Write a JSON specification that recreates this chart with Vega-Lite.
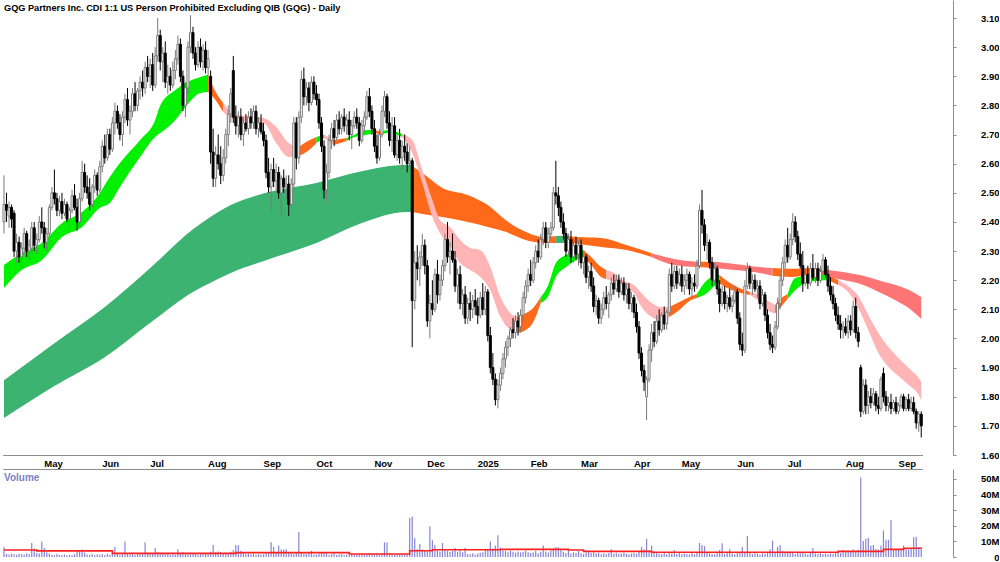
{
"$schema":"https://vega.github.io/schema/vega-lite/v6.json",
"padding":0,
"background":"white",
"bounds":"flush",
"spacing":14,
"config":{"view":{"stroke":null},"axis":{"labelFont":"Liberation Sans","labelFontSize":9.5,"labelFontWeight":"bold","labelColor":"#000000","domainColor":"#8c8c8c","tickColor":"#8c8c8c","grid":false,"labelOverlap":false}},
"datasets":{
"px":[
{"d":"2024-04-08","o":2.40,"h":2.56,"l":2.36,"c":2.46,"v":6.4},
{"d":"2024-04-09","o":2.46,"h":2.50,"l":2.40,"c":2.44,"v":2.0},
{"d":"2024-04-10","o":2.42,"h":2.47,"l":2.38,"c":2.45,"v":1.6},
{"d":"2024-04-11","o":2.45,"h":2.46,"l":2.38,"c":2.41,"v":2.2},
{"d":"2024-04-12","o":2.43,"h":2.44,"l":2.28,"c":2.30,"v":1.8},
{"d":"2024-04-15","o":2.30,"h":2.36,"l":2.26,"c":2.33,"v":1.5},
{"d":"2024-04-16","o":2.33,"h":2.35,"l":2.26,"c":2.28,"v":2.1},
{"d":"2024-04-17","o":2.28,"h":2.33,"l":2.24,"c":2.31,"v":1.7},
{"d":"2024-04-18","o":2.31,"h":2.38,"l":2.29,"c":2.36,"v":1.4},
{"d":"2024-04-19","o":2.36,"h":2.37,"l":2.28,"c":2.30,"v":2.4},
{"d":"2024-04-22","o":2.30,"h":2.34,"l":2.27,"c":2.32,"v":1.9},
{"d":"2024-04-23","o":2.31,"h":2.40,"l":2.29,"c":2.38,"v":9.0},
{"d":"2024-04-24","o":2.38,"h":2.40,"l":2.30,"c":2.32,"v":5.5},
{"d":"2024-04-26","o":2.32,"h":2.36,"l":2.29,"c":2.34,"v":2.6},
{"d":"2024-04-29","o":2.34,"h":2.42,"l":2.33,"c":2.40,"v":2.3},
{"d":"2024-04-30","o":2.40,"h":2.45,"l":2.36,"c":2.38,"v":10.0},
{"d":"2024-05-01","o":2.38,"h":2.40,"l":2.31,"c":2.33,"v":5.8},
{"d":"2024-05-02","o":2.33,"h":2.38,"l":2.30,"c":2.36,"v":3.0},
{"d":"2024-05-03","o":2.36,"h":2.46,"l":2.35,"c":2.45,"v":2.2},
{"d":"2024-05-06","o":2.45,"h":2.52,"l":2.44,"c":2.50,"v":1.5},
{"d":"2024-05-07","o":2.50,"h":2.58,"l":2.46,"c":2.48,"v":1.2},
{"d":"2024-05-08","o":2.48,"h":2.50,"l":2.42,"c":2.44,"v":1.9},
{"d":"2024-05-09","o":2.44,"h":2.49,"l":2.42,"c":2.47,"v":1.3},
{"d":"2024-05-10","o":2.47,"h":2.50,"l":2.41,"c":2.43,"v":1.1},
{"d":"2024-05-13","o":2.43,"h":2.48,"l":2.42,"c":2.46,"v":1.6},
{"d":"2024-05-14","o":2.46,"h":2.47,"l":2.40,"c":2.41,"v":1.0},
{"d":"2024-05-15","o":2.41,"h":2.45,"l":2.38,"c":2.44,"v":1.4},
{"d":"2024-05-16","o":2.44,"h":2.51,"l":2.43,"c":2.49,"v":1.2},
{"d":"2024-05-17","o":2.49,"h":2.53,"l":2.44,"c":2.45,"v":1.8},
{"d":"2024-05-20","o":2.45,"h":2.48,"l":2.37,"c":2.40,"v":4.7},
{"d":"2024-05-21","o":2.40,"h":2.50,"l":2.38,"c":2.48,"v":4.5},
{"d":"2024-05-22","o":2.48,"h":2.61,"l":2.47,"c":2.57,"v":4.8},
{"d":"2024-05-23","o":2.57,"h":2.60,"l":2.50,"c":2.52,"v":2.9},
{"d":"2024-05-24","o":2.52,"h":2.56,"l":2.48,"c":2.50,"v":1.6},
{"d":"2024-05-27","o":2.50,"h":2.55,"l":2.44,"c":2.46,"v":1.3},
{"d":"2024-05-28","o":2.46,"h":2.53,"l":2.45,"c":2.52,"v":2.0},
{"d":"2024-05-29","o":2.52,"h":2.58,"l":2.50,"c":2.56,"v":1.1},
{"d":"2024-05-30","o":2.56,"h":2.57,"l":2.49,"c":2.51,"v":1.7},
{"d":"2024-05-31","o":2.51,"h":2.61,"l":2.50,"c":2.59,"v":1.4},
{"d":"2024-06-03","o":2.59,"h":2.68,"l":2.57,"c":2.66,"v":1.9},
{"d":"2024-06-04","o":2.66,"h":2.70,"l":2.60,"c":2.62,"v":1.2},
{"d":"2024-06-05","o":2.62,"h":2.72,"l":2.61,"c":2.70,"v":2.1},
{"d":"2024-06-06","o":2.70,"h":2.72,"l":2.63,"c":2.65,"v":1.5},
{"d":"2024-06-07","o":2.65,"h":2.76,"l":2.64,"c":2.74,"v":2.6},
{"d":"2024-06-11","o":2.74,"h":2.81,"l":2.70,"c":2.78,"v":6.4},
{"d":"2024-06-12","o":2.78,"h":2.80,"l":2.72,"c":2.74,"v":2.0},
{"d":"2024-06-13","o":2.74,"h":2.77,"l":2.68,"c":2.70,"v":1.4},
{"d":"2024-06-14","o":2.70,"h":2.78,"l":2.66,"c":2.76,"v":2.4},
{"d":"2024-06-17","o":2.76,"h":2.84,"l":2.74,"c":2.82,"v":10.0},
{"d":"2024-06-18","o":2.82,"h":2.86,"l":2.73,"c":2.75,"v":2.2},
{"d":"2024-06-19","o":2.75,"h":2.80,"l":2.70,"c":2.78,"v":1.6},
{"d":"2024-06-20","o":2.78,"h":2.86,"l":2.76,"c":2.84,"v":2.0},
{"d":"2024-06-21","o":2.84,"h":2.88,"l":2.78,"c":2.80,"v":1.3},
{"d":"2024-06-24","o":2.80,"h":2.86,"l":2.78,"c":2.85,"v":2.5},
{"d":"2024-06-25","o":2.85,"h":2.90,"l":2.82,"c":2.88,"v":1.8},
{"d":"2024-06-26","o":2.88,"h":2.92,"l":2.83,"c":2.86,"v":2.2},
{"d":"2024-06-27","o":2.86,"h":2.95,"l":2.84,"c":2.93,"v":9.4},
{"d":"2024-06-28","o":2.93,"h":2.97,"l":2.88,"c":2.90,"v":2.7},
{"d":"2024-07-01","o":2.90,"h":2.96,"l":2.86,"c":2.94,"v":1.9},
{"d":"2024-07-02","o":2.94,"h":2.98,"l":2.85,"c":2.87,"v":2.4},
{"d":"2024-07-03","o":2.87,"h":3.00,"l":2.86,"c":2.97,"v":5.8},
{"d":"2024-07-04","o":2.97,"h":3.10,"l":2.95,"c":3.04,"v":3.1},
{"d":"2024-07-05","o":3.04,"h":3.06,"l":2.92,"c":2.95,"v":2.2},
{"d":"2024-07-08","o":2.95,"h":3.00,"l":2.88,"c":2.98,"v":2.8},
{"d":"2024-07-09","o":2.98,"h":3.02,"l":2.86,"c":2.88,"v":1.7},
{"d":"2024-07-10","o":2.88,"h":2.94,"l":2.84,"c":2.90,"v":2.3},
{"d":"2024-07-11","o":2.90,"h":2.93,"l":2.85,"c":2.87,"v":1.5},
{"d":"2024-07-12","o":2.87,"h":2.95,"l":2.86,"c":2.92,"v":2.0},
{"d":"2024-07-15","o":2.92,"h":2.99,"l":2.89,"c":2.96,"v":1.6},
{"d":"2024-07-16","o":2.96,"h":3.04,"l":2.94,"c":3.01,"v":5.0},
{"d":"2024-07-17","o":3.01,"h":3.03,"l":2.88,"c":2.90,"v":2.6},
{"d":"2024-07-18","o":2.90,"h":2.92,"l":2.78,"c":2.80,"v":3.0},
{"d":"2024-07-19","o":2.80,"h":2.88,"l":2.76,"c":2.86,"v":2.2},
{"d":"2024-07-22","o":2.86,"h":3.02,"l":2.84,"c":3.00,"v":1.8},
{"d":"2024-07-23","o":3.00,"h":3.11,"l":2.98,"c":3.05,"v":2.7},
{"d":"2024-07-24","o":3.05,"h":3.07,"l":2.96,"c":2.98,"v":2.3},
{"d":"2024-07-25","o":2.98,"h":3.00,"l":2.92,"c":2.94,"v":1.9},
{"d":"2024-07-26","o":2.94,"h":3.02,"l":2.93,"c":3.00,"v":1.4},
{"d":"2024-07-29","o":3.00,"h":3.03,"l":2.93,"c":2.95,"v":2.5},
{"d":"2024-07-30","o":2.95,"h":3.01,"l":2.92,"c":2.99,"v":1.9},
{"d":"2024-07-31","o":2.99,"h":3.02,"l":2.91,"c":2.93,"v":2.6},
{"d":"2024-08-01","o":2.93,"h":2.99,"l":2.90,"c":2.96,"v":2.1},
{"d":"2024-08-02","o":2.90,"h":2.92,"l":2.60,"c":2.64,"v":3.4},
{"d":"2024-08-05","o":2.64,"h":2.72,"l":2.52,"c":2.55,"v":7.7},
{"d":"2024-08-06","o":2.55,"h":2.66,"l":2.52,"c":2.63,"v":3.0},
{"d":"2024-08-07","o":2.63,"h":2.70,"l":2.58,"c":2.60,"v":3.5},
{"d":"2024-08-08","o":2.60,"h":2.66,"l":2.53,"c":2.56,"v":3.2},
{"d":"2024-08-09","o":2.56,"h":2.65,"l":2.54,"c":2.62,"v":2.6},
{"d":"2024-08-12","o":2.62,"h":2.72,"l":2.60,"c":2.70,"v":2.8},
{"d":"2024-08-13","o":2.70,"h":2.80,"l":2.66,"c":2.77,"v":2.4},
{"d":"2024-08-14","o":2.77,"h":2.86,"l":2.74,"c":2.84,"v":3.3},
{"d":"2024-08-15","o":2.92,"h":2.97,"l":2.74,"c":2.76,"v":4.5},
{"d":"2024-08-16","o":2.76,"h":2.80,"l":2.70,"c":2.73,"v":7.7},
{"d":"2024-08-19","o":2.73,"h":2.78,"l":2.69,"c":2.76,"v":7.5},
{"d":"2024-08-20","o":2.76,"h":2.79,"l":2.68,"c":2.70,"v":4.0},
{"d":"2024-08-21","o":2.70,"h":2.76,"l":2.66,"c":2.74,"v":2.6},
{"d":"2024-08-22","o":2.74,"h":2.77,"l":2.71,"c":2.72,"v":1.9},
{"d":"2024-08-23","o":2.72,"h":2.78,"l":2.70,"c":2.76,"v":2.2},
{"d":"2024-08-26","o":2.76,"h":2.79,"l":2.72,"c":2.74,"v":1.7},
{"d":"2024-08-27","o":2.74,"h":2.80,"l":2.72,"c":2.78,"v":2.3},
{"d":"2024-08-28","o":2.78,"h":2.80,"l":2.70,"c":2.72,"v":1.5},
{"d":"2024-08-29","o":2.72,"h":2.76,"l":2.69,"c":2.74,"v":2.0},
{"d":"2024-08-30","o":2.74,"h":2.77,"l":2.70,"c":2.71,"v":1.6},
{"d":"2024-09-02","o":2.71,"h":2.74,"l":2.66,"c":2.68,"v":1.8},
{"d":"2024-09-03","o":2.68,"h":2.70,"l":2.55,"c":2.57,"v":2.5},
{"d":"2024-09-04","o":2.57,"h":2.62,"l":2.50,"c":2.52,"v":3.0},
{"d":"2024-09-05","o":2.52,"h":2.60,"l":2.44,"c":2.58,"v":9.4},
{"d":"2024-09-06","o":2.58,"h":2.62,"l":2.52,"c":2.54,"v":6.4},
{"d":"2024-09-09","o":2.54,"h":2.60,"l":2.50,"c":2.57,"v":3.1},
{"d":"2024-09-10","o":2.57,"h":2.59,"l":2.48,"c":2.50,"v":7.3},
{"d":"2024-09-11","o":2.50,"h":2.56,"l":2.42,"c":2.55,"v":5.0},
{"d":"2024-09-12","o":2.55,"h":2.58,"l":2.50,"c":2.52,"v":4.8},
{"d":"2024-09-13","o":2.52,"h":2.56,"l":2.48,"c":2.53,"v":5.0},
{"d":"2024-09-16","o":2.53,"h":2.56,"l":2.42,"c":2.46,"v":3.2},
{"d":"2024-09-17","o":2.46,"h":2.55,"l":2.45,"c":2.53,"v":2.4},
{"d":"2024-09-18","o":2.53,"h":2.76,"l":2.52,"c":2.74,"v":2.0},
{"d":"2024-09-19","o":2.74,"h":2.76,"l":2.58,"c":2.62,"v":2.7},
{"d":"2024-09-20","o":2.62,"h":2.78,"l":2.60,"c":2.76,"v":16.0},
{"d":"2024-09-23","o":2.76,"h":2.92,"l":2.74,"c":2.89,"v":3.1},
{"d":"2024-09-24","o":2.89,"h":2.93,"l":2.80,"c":2.83,"v":2.2},
{"d":"2024-09-25","o":2.83,"h":2.88,"l":2.80,"c":2.86,"v":1.9},
{"d":"2024-09-26","o":2.86,"h":2.88,"l":2.78,"c":2.81,"v":2.5},
{"d":"2024-09-27","o":2.81,"h":2.90,"l":2.80,"c":2.88,"v":4.0},
{"d":"2024-09-30","o":2.88,"h":2.90,"l":2.82,"c":2.84,"v":1.8},
{"d":"2024-10-01","o":2.84,"h":2.87,"l":2.80,"c":2.82,"v":1.6},
{"d":"2024-10-02","o":2.82,"h":2.84,"l":2.72,"c":2.74,"v":2.2},
{"d":"2024-10-03","o":2.74,"h":2.76,"l":2.64,"c":2.66,"v":2.8},
{"d":"2024-10-04","o":2.66,"h":2.68,"l":2.48,"c":2.51,"v":3.2},
{"d":"2024-10-07","o":2.51,"h":2.60,"l":2.47,"c":2.57,"v":2.4},
{"d":"2024-10-08","o":2.57,"h":2.70,"l":2.55,"c":2.68,"v":1.5},
{"d":"2024-10-09","o":2.68,"h":2.74,"l":2.65,"c":2.72,"v":1.9},
{"d":"2024-10-10","o":2.72,"h":2.75,"l":2.66,"c":2.69,"v":2.6},
{"d":"2024-10-11","o":2.69,"h":2.77,"l":2.68,"c":2.75,"v":1.3},
{"d":"2024-10-14","o":2.75,"h":2.78,"l":2.70,"c":2.72,"v":1.7},
{"d":"2024-10-15","o":2.72,"h":2.77,"l":2.70,"c":2.76,"v":2.0},
{"d":"2024-10-16","o":2.76,"h":2.79,"l":2.71,"c":2.73,"v":1.2},
{"d":"2024-10-17","o":2.73,"h":2.77,"l":2.70,"c":2.75,"v":1.6},
{"d":"2024-10-18","o":2.75,"h":2.78,"l":2.68,"c":2.70,"v":1.4},
{"d":"2024-10-21","o":2.70,"h":2.75,"l":2.65,"c":2.73,"v":2.1},
{"d":"2024-10-22","o":2.73,"h":2.78,"l":2.72,"c":2.76,"v":1.5},
{"d":"2024-10-23","o":2.76,"h":2.79,"l":2.72,"c":2.74,"v":1.8},
{"d":"2024-10-24","o":2.74,"h":2.76,"l":2.66,"c":2.68,"v":1.6},
{"d":"2024-10-25","o":2.68,"h":2.75,"l":2.67,"c":2.73,"v":2.3},
{"d":"2024-10-28","o":2.73,"h":2.78,"l":2.71,"c":2.76,"v":1.4},
{"d":"2024-10-29","o":2.76,"h":2.85,"l":2.75,"c":2.83,"v":1.9},
{"d":"2024-10-30","o":2.83,"h":2.86,"l":2.76,"c":2.78,"v":2.5},
{"d":"2024-10-31","o":2.78,"h":2.80,"l":2.70,"c":2.72,"v":1.6},
{"d":"2024-11-01","o":2.72,"h":2.75,"l":2.64,"c":2.66,"v":1.8},
{"d":"2024-11-04","o":2.66,"h":2.70,"l":2.60,"c":2.62,"v":2.2},
{"d":"2024-11-05","o":2.62,"h":2.72,"l":2.61,"c":2.70,"v":1.5},
{"d":"2024-11-06","o":2.70,"h":2.80,"l":2.69,"c":2.78,"v":2.0},
{"d":"2024-11-07","o":2.78,"h":2.85,"l":2.76,"c":2.83,"v":9.4},
{"d":"2024-11-08","o":2.83,"h":2.84,"l":2.72,"c":2.74,"v":9.4},
{"d":"2024-11-11","o":2.74,"h":2.78,"l":2.66,"c":2.68,"v":2.6},
{"d":"2024-11-12","o":2.68,"h":2.76,"l":2.64,"c":2.73,"v":1.7},
{"d":"2024-11-13","o":2.73,"h":2.76,"l":2.62,"c":2.63,"v":1.4},
{"d":"2024-11-14","o":2.63,"h":2.70,"l":2.61,"c":2.68,"v":1.9},
{"d":"2024-11-15","o":2.68,"h":2.72,"l":2.60,"c":2.62,"v":1.3},
{"d":"2024-11-18","o":2.62,"h":2.68,"l":2.58,"c":2.66,"v":1.6},
{"d":"2024-11-19","o":2.66,"h":2.70,"l":2.61,"c":2.64,"v":2.0},
{"d":"2024-11-20","o":2.64,"h":2.67,"l":2.57,"c":2.60,"v":1.8},
{"d":"2024-11-21","o":2.60,"h":2.66,"l":2.58,"c":2.61,"v":25.0},
{"d":"2024-11-22","o":2.61,"h":2.62,"l":1.97,"c":2.13,"v":26.0},
{"d":"2024-11-25","o":2.13,"h":2.30,"l":2.10,"c":2.26,"v":12.0},
{"d":"2024-11-26","o":2.26,"h":2.32,"l":2.20,"c":2.24,"v":5.2},
{"d":"2024-11-27","o":2.24,"h":2.30,"l":2.18,"c":2.28,"v":8.3},
{"d":"2024-11-28","o":2.28,"h":2.36,"l":2.25,"c":2.32,"v":5.0},
{"d":"2024-11-29","o":2.32,"h":2.34,"l":2.22,"c":2.25,"v":4.1},
{"d":"2024-12-02","o":2.25,"h":2.27,"l":2.04,"c":2.06,"v":3.6},
{"d":"2024-12-03","o":2.06,"h":2.15,"l":2.00,"c":2.12,"v":19.6},
{"d":"2024-12-04","o":2.12,"h":2.20,"l":2.08,"c":2.10,"v":10.7},
{"d":"2024-12-05","o":2.10,"h":2.24,"l":2.09,"c":2.22,"v":7.7},
{"d":"2024-12-06","o":2.22,"h":2.27,"l":2.12,"c":2.15,"v":4.2},
{"d":"2024-12-09","o":2.15,"h":2.22,"l":2.13,"c":2.20,"v":3.5},
{"d":"2024-12-10","o":2.20,"h":2.27,"l":2.18,"c":2.25,"v":9.0},
{"d":"2024-12-11","o":2.25,"h":2.36,"l":2.23,"c":2.34,"v":4.5},
{"d":"2024-12-12","o":2.34,"h":2.40,"l":2.26,"c":2.28,"v":3.8},
{"d":"2024-12-13","o":2.28,"h":2.33,"l":2.22,"c":2.30,"v":3.2},
{"d":"2024-12-16","o":2.30,"h":2.36,"l":2.26,"c":2.27,"v":4.0},
{"d":"2024-12-17","o":2.27,"h":2.30,"l":2.16,"c":2.18,"v":5.8},
{"d":"2024-12-18","o":2.18,"h":2.24,"l":2.12,"c":2.22,"v":3.4},
{"d":"2024-12-19","o":2.22,"h":2.25,"l":2.10,"c":2.12,"v":4.4},
{"d":"2024-12-20","o":2.12,"h":2.17,"l":2.08,"c":2.15,"v":3.0},
{"d":"2024-12-23","o":2.15,"h":2.18,"l":2.05,"c":2.07,"v":5.8},
{"d":"2024-12-24","o":2.07,"h":2.14,"l":2.05,"c":2.12,"v":2.0},
{"d":"2024-12-27","o":2.12,"h":2.16,"l":2.06,"c":2.10,"v":1.8},
{"d":"2024-12-30","o":2.10,"h":2.15,"l":2.07,"c":2.13,"v":2.4},
{"d":"2024-12-31","o":2.13,"h":2.17,"l":2.08,"c":2.11,"v":1.6},
{"d":"2025-01-02","o":2.11,"h":2.14,"l":2.05,"c":2.08,"v":2.2},
{"d":"2025-01-03","o":2.08,"h":2.16,"l":2.07,"c":2.14,"v":2.8},
{"d":"2025-01-06","o":2.14,"h":2.19,"l":2.08,"c":2.10,"v":3.1},
{"d":"2025-01-07","o":2.10,"h":2.18,"l":2.08,"c":2.16,"v":4.4},
{"d":"2025-01-08","o":2.16,"h":2.17,"l":1.99,"c":2.01,"v":5.2},
{"d":"2025-01-09","o":2.01,"h":2.04,"l":1.88,"c":1.90,"v":10.0},
{"d":"2025-01-10","o":1.90,"h":1.95,"l":1.84,"c":1.86,"v":5.5},
{"d":"2025-01-13","o":1.86,"h":1.88,"l":1.77,"c":1.79,"v":7.3},
{"d":"2025-01-14","o":1.79,"h":1.86,"l":1.76,"c":1.84,"v":14.0},
{"d":"2025-01-15","o":1.84,"h":1.90,"l":1.82,"c":1.88,"v":6.0},
{"d":"2025-01-16","o":1.88,"h":1.95,"l":1.86,"c":1.93,"v":4.2},
{"d":"2025-01-17","o":1.93,"h":1.99,"l":1.90,"c":1.97,"v":3.8},
{"d":"2025-01-20","o":1.97,"h":2.01,"l":1.94,"c":2.00,"v":3.0},
{"d":"2025-01-21","o":2.00,"h":2.04,"l":1.97,"c":2.03,"v":4.1},
{"d":"2025-01-22","o":2.03,"h":2.07,"l":2.00,"c":2.02,"v":3.3},
{"d":"2025-01-23","o":2.02,"h":2.08,"l":2.00,"c":2.06,"v":2.8},
{"d":"2025-01-24","o":2.06,"h":2.09,"l":2.01,"c":2.04,"v":3.6},
{"d":"2025-01-28","o":2.04,"h":2.10,"l":2.02,"c":2.08,"v":2.9},
{"d":"2025-01-29","o":2.08,"h":2.16,"l":2.06,"c":2.14,"v":3.4},
{"d":"2025-01-30","o":2.14,"h":2.20,"l":2.12,"c":2.18,"v":4.2},
{"d":"2025-01-31","o":2.18,"h":2.24,"l":2.16,"c":2.22,"v":3.0},
{"d":"2025-02-03","o":2.22,"h":2.27,"l":2.18,"c":2.20,"v":2.6},
{"d":"2025-02-04","o":2.20,"h":2.28,"l":2.19,"c":2.26,"v":3.1},
{"d":"2025-02-05","o":2.26,"h":2.32,"l":2.24,"c":2.30,"v":4.0},
{"d":"2025-02-06","o":2.30,"h":2.34,"l":2.26,"c":2.28,"v":2.4},
{"d":"2025-02-07","o":2.28,"h":2.36,"l":2.27,"c":2.34,"v":3.3},
{"d":"2025-02-10","o":2.34,"h":2.40,"l":2.32,"c":2.38,"v":7.3},
{"d":"2025-02-11","o":2.38,"h":2.40,"l":2.31,"c":2.33,"v":3.6},
{"d":"2025-02-12","o":2.33,"h":2.38,"l":2.31,"c":2.36,"v":2.9},
{"d":"2025-02-13","o":2.36,"h":2.40,"l":2.34,"c":2.38,"v":4.2},
{"d":"2025-02-14","o":2.38,"h":2.52,"l":2.37,"c":2.50,"v":5.5},
{"d":"2025-02-17","o":2.50,"h":2.61,"l":2.46,"c":2.49,"v":6.4},
{"d":"2025-02-18","o":2.49,"h":2.52,"l":2.42,"c":2.45,"v":6.2},
{"d":"2025-02-19","o":2.45,"h":2.47,"l":2.38,"c":2.40,"v":4.8},
{"d":"2025-02-20","o":2.40,"h":2.43,"l":2.34,"c":2.36,"v":3.4},
{"d":"2025-02-21","o":2.36,"h":2.38,"l":2.28,"c":2.30,"v":2.6},
{"d":"2025-02-24","o":2.30,"h":2.36,"l":2.29,"c":2.34,"v":3.9},
{"d":"2025-02-25","o":2.34,"h":2.37,"l":2.26,"c":2.28,"v":2.2},
{"d":"2025-02-26","o":2.28,"h":2.34,"l":2.26,"c":2.32,"v":3.0},
{"d":"2025-02-27","o":2.32,"h":2.35,"l":2.27,"c":2.29,"v":2.5},
{"d":"2025-02-28","o":2.29,"h":2.34,"l":2.25,"c":2.32,"v":3.8},
{"d":"2025-03-03","o":2.32,"h":2.34,"l":2.24,"c":2.26,"v":2.4},
{"d":"2025-03-04","o":2.26,"h":2.30,"l":2.22,"c":2.28,"v":2.0},
{"d":"2025-03-05","o":2.28,"h":2.29,"l":2.19,"c":2.21,"v":2.9},
{"d":"2025-03-06","o":2.21,"h":2.25,"l":2.17,"c":2.23,"v":3.3},
{"d":"2025-03-07","o":2.23,"h":2.26,"l":2.16,"c":2.18,"v":2.6},
{"d":"2025-03-10","o":2.18,"h":2.21,"l":2.09,"c":2.11,"v":3.1},
{"d":"2025-03-11","o":2.11,"h":2.15,"l":2.08,"c":2.13,"v":2.2},
{"d":"2025-03-12","o":2.13,"h":2.14,"l":2.05,"c":2.07,"v":2.7},
{"d":"2025-03-13","o":2.07,"h":2.12,"l":2.05,"c":2.10,"v":1.8},
{"d":"2025-03-14","o":2.10,"h":2.16,"l":2.08,"c":2.14,"v":2.4},
{"d":"2025-03-17","o":2.14,"h":2.18,"l":2.10,"c":2.12,"v":2.0},
{"d":"2025-03-18","o":2.12,"h":2.16,"l":2.07,"c":2.15,"v":2.6},
{"d":"2025-03-19","o":2.15,"h":2.21,"l":2.13,"c":2.19,"v":5.0},
{"d":"2025-03-20","o":2.19,"h":2.22,"l":2.15,"c":2.17,"v":2.1},
{"d":"2025-03-21","o":2.17,"h":2.22,"l":2.16,"c":2.20,"v":2.7},
{"d":"2025-03-24","o":2.20,"h":2.22,"l":2.14,"c":2.16,"v":1.9},
{"d":"2025-03-25","o":2.16,"h":2.21,"l":2.15,"c":2.19,"v":2.3},
{"d":"2025-03-26","o":2.19,"h":2.21,"l":2.13,"c":2.15,"v":2.8},
{"d":"2025-03-27","o":2.15,"h":2.19,"l":2.12,"c":2.17,"v":2.1},
{"d":"2025-03-28","o":2.17,"h":2.19,"l":2.10,"c":2.12,"v":1.7},
{"d":"2025-03-31","o":2.12,"h":2.16,"l":2.09,"c":2.14,"v":2.2},
{"d":"2025-04-01","o":2.14,"h":2.15,"l":2.07,"c":2.09,"v":2.5},
{"d":"2025-04-02","o":2.09,"h":2.12,"l":2.02,"c":2.04,"v":2.0},
{"d":"2025-04-03","o":2.04,"h":2.06,"l":1.93,"c":1.95,"v":3.2},
{"d":"2025-04-04","o":1.95,"h":1.97,"l":1.87,"c":1.89,"v":6.4},
{"d":"2025-04-07","o":1.89,"h":1.91,"l":1.82,"c":1.85,"v":4.9},
{"d":"2025-04-08","o":1.80,"h":1.87,"l":1.72,"c":1.86,"v":11.7},
{"d":"2025-04-09","o":1.86,"h":1.98,"l":1.85,"c":1.96,"v":4.2},
{"d":"2025-04-10","o":1.96,"h":2.05,"l":1.92,"c":2.02,"v":7.3},
{"d":"2025-04-11","o":2.02,"h":2.06,"l":1.97,"c":1.99,"v":3.6},
{"d":"2025-04-14","o":1.99,"h":2.08,"l":1.98,"c":2.06,"v":2.8},
{"d":"2025-04-15","o":2.06,"h":2.10,"l":2.01,"c":2.03,"v":2.2},
{"d":"2025-04-16","o":2.03,"h":2.09,"l":2.02,"c":2.08,"v":1.9},
{"d":"2025-04-17","o":2.08,"h":2.11,"l":2.03,"c":2.05,"v":2.5},
{"d":"2025-04-22","o":2.05,"h":2.10,"l":2.03,"c":2.09,"v":1.8},
{"d":"2025-04-23","o":2.09,"h":2.24,"l":2.08,"c":2.22,"v":3.0},
{"d":"2025-04-24","o":2.22,"h":2.26,"l":2.16,"c":2.18,"v":2.4},
{"d":"2025-04-28","o":2.18,"h":2.25,"l":2.17,"c":2.23,"v":4.5},
{"d":"2025-04-29","o":2.23,"h":2.25,"l":2.17,"c":2.19,"v":2.0},
{"d":"2025-04-30","o":2.19,"h":2.24,"l":2.18,"c":2.22,"v":2.6},
{"d":"2025-05-01","o":2.22,"h":2.25,"l":2.16,"c":2.18,"v":1.8},
{"d":"2025-05-02","o":2.18,"h":2.22,"l":2.15,"c":2.20,"v":2.3},
{"d":"2025-05-05","o":2.20,"h":2.24,"l":2.17,"c":2.22,"v":2.0},
{"d":"2025-05-06","o":2.22,"h":2.23,"l":2.15,"c":2.17,"v":1.6},
{"d":"2025-05-07","o":2.17,"h":2.21,"l":2.14,"c":2.19,"v":2.5},
{"d":"2025-05-08","o":2.19,"h":2.22,"l":2.16,"c":2.18,"v":1.9},
{"d":"2025-05-09","o":2.18,"h":2.27,"l":2.17,"c":2.25,"v":2.8},
{"d":"2025-05-12","o":2.25,"h":2.46,"l":2.24,"c":2.44,"v":9.0},
{"d":"2025-05-13","o":2.44,"h":2.51,"l":2.36,"c":2.39,"v":7.7},
{"d":"2025-05-14","o":2.39,"h":2.41,"l":2.30,"c":2.32,"v":7.0},
{"d":"2025-05-15","o":2.32,"h":2.36,"l":2.27,"c":2.33,"v":3.2},
{"d":"2025-05-16","o":2.33,"h":2.34,"l":2.24,"c":2.26,"v":2.4},
{"d":"2025-05-19","o":2.26,"h":2.28,"l":2.18,"c":2.20,"v":2.1},
{"d":"2025-05-20","o":2.20,"h":2.26,"l":2.19,"c":2.24,"v":1.7},
{"d":"2025-05-21","o":2.24,"h":2.25,"l":2.15,"c":2.17,"v":2.6},
{"d":"2025-05-22","o":2.17,"h":2.20,"l":2.09,"c":2.12,"v":4.5},
{"d":"2025-05-23","o":2.12,"h":2.18,"l":2.11,"c":2.16,"v":8.8},
{"d":"2025-05-26","o":2.16,"h":2.18,"l":2.10,"c":2.12,"v":2.0},
{"d":"2025-05-27","o":2.12,"h":2.15,"l":2.09,"c":2.14,"v":2.9},
{"d":"2025-05-28","o":2.14,"h":2.17,"l":2.10,"c":2.11,"v":5.0},
{"d":"2025-05-29","o":2.11,"h":2.15,"l":2.09,"c":2.13,"v":2.2},
{"d":"2025-05-30","o":2.13,"h":2.18,"l":2.12,"c":2.16,"v":1.8},
{"d":"2025-06-02","o":2.16,"h":2.17,"l":2.05,"c":2.07,"v":2.7},
{"d":"2025-06-03","o":2.07,"h":2.09,"l":1.96,"c":1.98,"v":3.4},
{"d":"2025-06-04","o":1.98,"h":2.02,"l":1.94,"c":1.96,"v":6.4},
{"d":"2025-06-05","o":1.96,"h":2.20,"l":1.95,"c":2.18,"v":3.0},
{"d":"2025-06-06","o":2.18,"h":2.26,"l":2.17,"c":2.24,"v":13.5},
{"d":"2025-06-10","o":2.24,"h":2.25,"l":2.17,"c":2.19,"v":2.5},
{"d":"2025-06-11","o":2.19,"h":2.22,"l":2.15,"c":2.20,"v":1.9},
{"d":"2025-06-12","o":2.20,"h":2.22,"l":2.16,"c":2.17,"v":3.0},
{"d":"2025-06-13","o":2.17,"h":2.20,"l":2.14,"c":2.18,"v":2.2},
{"d":"2025-06-16","o":2.18,"h":2.20,"l":2.10,"c":2.12,"v":1.6},
{"d":"2025-06-17","o":2.12,"h":2.17,"l":2.11,"c":2.15,"v":2.4},
{"d":"2025-06-18","o":2.15,"h":2.16,"l":2.06,"c":2.08,"v":2.1},
{"d":"2025-06-19","o":2.08,"h":2.10,"l":2.00,"c":2.02,"v":2.8},
{"d":"2025-06-20","o":2.02,"h":2.05,"l":1.96,"c":1.98,"v":5.0},
{"d":"2025-06-23","o":1.98,"h":2.01,"l":1.95,"c":1.97,"v":10.5},
{"d":"2025-06-24","o":1.97,"h":2.06,"l":1.96,"c":2.04,"v":2.6},
{"d":"2025-06-25","o":2.04,"h":2.14,"l":2.03,"c":2.12,"v":6.4},
{"d":"2025-06-26","o":2.12,"h":2.22,"l":2.10,"c":2.20,"v":7.7},
{"d":"2025-06-27","o":2.20,"h":2.28,"l":2.18,"c":2.26,"v":4.0},
{"d":"2025-06-30","o":2.26,"h":2.34,"l":2.24,"c":2.32,"v":3.5},
{"d":"2025-07-01","o":2.32,"h":2.38,"l":2.26,"c":2.28,"v":2.8},
{"d":"2025-07-02","o":2.28,"h":2.36,"l":2.27,"c":2.34,"v":3.3},
{"d":"2025-07-03","o":2.34,"h":2.43,"l":2.32,"c":2.40,"v":2.6},
{"d":"2025-07-04","o":2.40,"h":2.42,"l":2.33,"c":2.35,"v":2.0},
{"d":"2025-07-07","o":2.35,"h":2.37,"l":2.27,"c":2.29,"v":2.9},
{"d":"2025-07-08","o":2.29,"h":2.33,"l":2.24,"c":2.25,"v":2.4},
{"d":"2025-07-09","o":2.25,"h":2.30,"l":2.16,"c":2.19,"v":3.1},
{"d":"2025-07-10","o":2.19,"h":2.24,"l":2.18,"c":2.22,"v":2.2},
{"d":"2025-07-11","o":2.22,"h":2.25,"l":2.17,"c":2.19,"v":1.8},
{"d":"2025-07-14","o":2.19,"h":2.26,"l":2.18,"c":2.24,"v":2.5},
{"d":"2025-07-15","o":2.24,"h":2.29,"l":2.20,"c":2.21,"v":5.8},
{"d":"2025-07-16","o":2.21,"h":2.26,"l":2.19,"c":2.24,"v":2.3},
{"d":"2025-07-17","o":2.24,"h":2.26,"l":2.18,"c":2.20,"v":2.0},
{"d":"2025-07-18","o":2.20,"h":2.25,"l":2.19,"c":2.23,"v":2.6},
{"d":"2025-07-21","o":2.23,"h":2.29,"l":2.22,"c":2.27,"v":1.9},
{"d":"2025-07-22","o":2.27,"h":2.28,"l":2.21,"c":2.22,"v":2.2},
{"d":"2025-07-23","o":2.22,"h":2.25,"l":2.16,"c":2.18,"v":1.7},
{"d":"2025-07-24","o":2.18,"h":2.21,"l":2.13,"c":2.15,"v":2.4},
{"d":"2025-07-25","o":2.15,"h":2.18,"l":2.10,"c":2.12,"v":2.0},
{"d":"2025-07-28","o":2.12,"h":2.14,"l":2.06,"c":2.08,"v":2.7},
{"d":"2025-07-29","o":2.08,"h":2.11,"l":2.03,"c":2.05,"v":3.1},
{"d":"2025-07-30","o":2.05,"h":2.08,"l":2.00,"c":2.03,"v":2.5},
{"d":"2025-07-31","o":2.03,"h":2.06,"l":2.00,"c":2.04,"v":4.5},
{"d":"2025-08-01","o":2.04,"h":2.07,"l":2.01,"c":2.02,"v":3.8},
{"d":"2025-08-04","o":2.02,"h":2.08,"l":2.00,"c":2.06,"v":4.2},
{"d":"2025-08-05","o":2.06,"h":2.08,"l":2.01,"c":2.03,"v":3.3},
{"d":"2025-08-06","o":2.03,"h":2.13,"l":2.02,"c":2.11,"v":5.0},
{"d":"2025-08-07","o":2.11,"h":2.14,"l":2.00,"c":2.02,"v":4.0},
{"d":"2025-08-08","o":2.02,"h":2.04,"l":1.97,"c":1.99,"v":4.6},
{"d":"2025-08-11","o":1.90,"h":1.91,"l":1.73,"c":1.75,"v":51.0},
{"d":"2025-08-12","o":1.75,"h":1.86,"l":1.74,"c":1.84,"v":10.2},
{"d":"2025-08-13","o":1.84,"h":1.86,"l":1.74,"c":1.77,"v":11.7},
{"d":"2025-08-14","o":1.77,"h":1.82,"l":1.74,"c":1.80,"v":12.2},
{"d":"2025-08-15","o":1.80,"h":1.83,"l":1.76,"c":1.78,"v":7.3},
{"d":"2025-08-18","o":1.78,"h":1.83,"l":1.77,"c":1.81,"v":7.7},
{"d":"2025-08-19","o":1.81,"h":1.82,"l":1.75,"c":1.77,"v":5.2},
{"d":"2025-08-20","o":1.77,"h":1.80,"l":1.74,"c":1.76,"v":4.8},
{"d":"2025-08-21","o":1.76,"h":1.87,"l":1.75,"c":1.86,"v":7.3},
{"d":"2025-08-22","o":1.88,"h":1.90,"l":1.78,"c":1.80,"v":17.0},
{"d":"2025-08-25","o":1.80,"h":1.82,"l":1.75,"c":1.77,"v":11.0},
{"d":"2025-08-26","o":1.77,"h":1.80,"l":1.75,"c":1.78,"v":11.0},
{"d":"2025-08-27","o":1.78,"h":1.81,"l":1.74,"c":1.76,"v":23.5},
{"d":"2025-08-28","o":1.76,"h":1.79,"l":1.75,"c":1.78,"v":5.2},
{"d":"2025-08-29","o":1.78,"h":1.80,"l":1.74,"c":1.75,"v":4.8},
{"d":"2025-09-01","o":1.75,"h":1.78,"l":1.74,"c":1.77,"v":5.0},
{"d":"2025-09-02","o":1.77,"h":1.81,"l":1.76,"c":1.80,"v":4.6},
{"d":"2025-09-03","o":1.80,"h":1.81,"l":1.75,"c":1.76,"v":7.3},
{"d":"2025-09-04","o":1.76,"h":1.80,"l":1.75,"c":1.79,"v":5.4},
{"d":"2025-09-05","o":1.79,"h":1.81,"l":1.75,"c":1.76,"v":4.9},
{"d":"2025-09-08","o":1.76,"h":1.80,"l":1.75,"c":1.78,"v":5.6},
{"d":"2025-09-09","o":1.78,"h":1.80,"l":1.74,"c":1.75,"v":12.6},
{"d":"2025-09-10","o":1.75,"h":1.76,"l":1.69,"c":1.71,"v":13.0},
{"d":"2025-09-11","o":1.71,"h":1.75,"l":1.68,"c":1.74,"v":6.4},
{"d":"2025-09-12","o":1.74,"h":1.75,"l":1.66,"c":1.70,"v":6.4}
],
"sr":[
{"d":"2024-04-08","hi":2.252,"lo":2.173,"k":"sg","s":1},
{"d":"2024-04-17","hi":2.293,"lo":2.235,"k":"sg","s":1},
{"d":"2024-04-30","hi":2.328,"lo":2.269,"k":"sg","s":1},
{"d":"2024-05-10","hi":2.396,"lo":2.348,"k":"sg","s":1},
{"d":"2024-05-22","hi":2.434,"lo":2.383,"k":"sg","s":1},
{"d":"2024-05-31","hi":2.499,"lo":2.448,"k":"sg","s":1},
{"d":"2024-06-06","hi":2.554,"lo":2.465,"k":"sg","s":1},
{"d":"2024-06-13","hi":2.602,"lo":2.520,"k":"sg","s":1},
{"d":"2024-06-25","hi":2.681,"lo":2.623,"k":"sg","s":1},
{"d":"2024-07-03","hi":2.750,"lo":2.692,"k":"sg","s":1},
{"d":"2024-07-05","hi":2.800,"lo":2.705,"k":"sg","s":1},
{"d":"2024-07-15","hi":2.853,"lo":2.750,"k":"sg","s":1},
{"d":"2024-07-19","hi":2.877,"lo":2.795,"k":"sg","s":1},
{"d":"2024-07-29","hi":2.898,"lo":2.843,"k":"sg","s":1},
{"d":"2024-08-01","hi":2.905,"lo":2.846,"k":"sg","s":1},
{"d":"2024-08-01","hi":2.905,"lo":2.846,"k":"so","s":2},
{"d":"2024-08-05","hi":2.863,"lo":2.829,"k":"so","s":2},
{"d":"2024-08-09","hi":2.808,"lo":2.777,"k":"so","s":2},
{"d":"2024-08-09","hi":2.808,"lo":2.777,"k":"sp","s":3},
{"d":"2024-08-16","hi":2.767,"lo":2.750,"k":"sp","s":3},
{"d":"2024-08-23","hi":2.764,"lo":2.743,"k":"sp","s":3},
{"d":"2024-09-02","hi":2.757,"lo":2.740,"k":"sp","s":3},
{"d":"2024-09-09","hi":2.726,"lo":2.671,"k":"sp","s":3},
{"d":"2024-09-16","hi":2.671,"lo":2.623,"k":"sp","s":3},
{"d":"2024-09-20","hi":2.657,"lo":2.627,"k":"sp","s":3},
{"d":"2024-09-20","hi":2.657,"lo":2.627,"k":"so","s":4},
{"d":"2024-09-25","hi":2.675,"lo":2.640,"k":"so","s":4},
{"d":"2024-10-01","hi":2.692,"lo":2.671,"k":"so","s":4},
{"d":"2024-10-01","hi":2.692,"lo":2.671,"k":"sg","s":5},
{"d":"2024-10-04","hi":2.699,"lo":2.688,"k":"sg","s":5},
{"d":"2024-10-04","hi":2.699,"lo":2.688,"k":"sp","s":6},
{"d":"2024-10-10","hi":2.681,"lo":2.664,"k":"sp","s":6},
{"d":"2024-10-10","hi":2.681,"lo":2.664,"k":"so","s":7},
{"d":"2024-10-17","hi":2.688,"lo":2.678,"k":"so","s":7},
{"d":"2024-10-17","hi":2.688,"lo":2.678,"k":"sg","s":8},
{"d":"2024-10-21","hi":2.695,"lo":2.688,"k":"sg","s":8},
{"d":"2024-10-29","hi":2.716,"lo":2.699,"k":"sg","s":8},
{"d":"2024-11-01","hi":2.716,"lo":2.705,"k":"sg","s":8},
{"d":"2024-11-01","hi":2.716,"lo":2.705,"k":"so","s":9},
{"d":"2024-11-06","hi":2.709,"lo":2.699,"k":"so","s":9},
{"d":"2024-11-06","hi":2.709,"lo":2.699,"k":"sg","s":10},
{"d":"2024-11-08","hi":2.716,"lo":2.705,"k":"sg","s":10},
{"d":"2024-11-14","hi":2.709,"lo":2.699,"k":"sg","s":10},
{"d":"2024-11-18","hi":2.702,"lo":2.692,"k":"sg","s":10},
{"d":"2024-11-18","hi":2.702,"lo":2.692,"k":"sp","s":11},
{"d":"2024-11-22","hi":2.681,"lo":2.637,"k":"sp","s":11},
{"d":"2024-11-28","hi":2.578,"lo":2.534,"k":"sp","s":11},
{"d":"2024-12-04","hi":2.475,"lo":2.417,"k":"sp","s":11},
{"d":"2024-12-09","hi":2.407,"lo":2.362,"k":"sp","s":11},
{"d":"2024-12-13","hi":2.383,"lo":2.314,"k":"sp","s":11},
{"d":"2024-12-19","hi":2.338,"lo":2.259,"k":"sp","s":11},
{"d":"2024-12-27","hi":2.311,"lo":2.235,"k":"sp","s":11},
{"d":"2025-01-03","hi":2.304,"lo":2.211,"k":"sp","s":11},
{"d":"2025-01-09","hi":2.245,"lo":2.166,"k":"sp","s":11},
{"d":"2025-01-15","hi":2.142,"lo":2.074,"k":"sp","s":11},
{"d":"2025-01-21","hi":2.087,"lo":2.029,"k":"sp","s":11},
{"d":"2025-01-24","hi":2.074,"lo":2.019,"k":"sp","s":11},
{"d":"2025-01-24","hi":2.074,"lo":2.019,"k":"so","s":12},
{"d":"2025-01-30","hi":2.087,"lo":2.029,"k":"so","s":12},
{"d":"2025-02-04","hi":2.105,"lo":2.056,"k":"so","s":12},
{"d":"2025-02-07","hi":2.142,"lo":2.122,"k":"so","s":12},
{"d":"2025-02-07","hi":2.142,"lo":2.122,"k":"sg","s":13},
{"d":"2025-02-12","hi":2.184,"lo":2.146,"k":"sg","s":13},
{"d":"2025-02-17","hi":2.259,"lo":2.211,"k":"sg","s":13},
{"d":"2025-02-21","hi":2.287,"lo":2.245,"k":"sg","s":13},
{"d":"2025-02-27","hi":2.297,"lo":2.269,"k":"sg","s":13},
{"d":"2025-03-04","hi":2.304,"lo":2.276,"k":"sg","s":13},
{"d":"2025-03-04","hi":2.304,"lo":2.276,"k":"so","s":14},
{"d":"2025-03-07","hi":2.280,"lo":2.252,"k":"so","s":14},
{"d":"2025-03-13","hi":2.245,"lo":2.211,"k":"so","s":14},
{"d":"2025-03-17","hi":2.235,"lo":2.204,"k":"so","s":14},
{"d":"2025-03-17","hi":2.235,"lo":2.204,"k":"sp","s":15},
{"d":"2025-03-20","hi":2.225,"lo":2.194,"k":"sp","s":15},
{"d":"2025-03-26","hi":2.197,"lo":2.177,"k":"sp","s":15},
{"d":"2025-04-01","hi":2.184,"lo":2.156,"k":"sp","s":15},
{"d":"2025-04-04","hi":2.156,"lo":2.108,"k":"sp","s":15},
{"d":"2025-04-10","hi":2.122,"lo":2.074,"k":"sp","s":15},
{"d":"2025-04-16","hi":2.108,"lo":2.063,"k":"sp","s":15},
{"d":"2025-04-23","hi":2.108,"lo":2.074,"k":"sp","s":15},
{"d":"2025-04-23","hi":2.108,"lo":2.074,"k":"so","s":16},
{"d":"2025-04-30","hi":2.125,"lo":2.098,"k":"so","s":16},
{"d":"2025-05-06","hi":2.142,"lo":2.129,"k":"so","s":16},
{"d":"2025-05-09","hi":2.153,"lo":2.139,"k":"so","s":16},
{"d":"2025-05-09","hi":2.153,"lo":2.139,"k":"sg","s":17},
{"d":"2025-05-15","hi":2.201,"lo":2.156,"k":"sg","s":17},
{"d":"2025-05-20","hi":2.214,"lo":2.180,"k":"sg","s":17},
{"d":"2025-05-22","hi":2.218,"lo":2.190,"k":"sg","s":17},
{"d":"2025-05-22","hi":2.218,"lo":2.190,"k":"so","s":18},
{"d":"2025-05-27","hi":2.197,"lo":2.173,"k":"so","s":18},
{"d":"2025-06-02","hi":2.177,"lo":2.160,"k":"so","s":18},
{"d":"2025-06-10","hi":2.160,"lo":2.149,"k":"so","s":18},
{"d":"2025-06-10","hi":2.160,"lo":2.149,"k":"sp","s":19},
{"d":"2025-06-16","hi":2.149,"lo":2.125,"k":"sp","s":19},
{"d":"2025-06-20","hi":2.125,"lo":2.091,"k":"sp","s":19},
{"d":"2025-06-24","hi":2.115,"lo":2.087,"k":"sp","s":19},
{"d":"2025-06-24","hi":2.115,"lo":2.087,"k":"so","s":20},
{"d":"2025-06-27","hi":2.142,"lo":2.115,"k":"so","s":20},
{"d":"2025-07-01","hi":2.153,"lo":2.136,"k":"so","s":20},
{"d":"2025-07-01","hi":2.153,"lo":2.136,"k":"sg","s":21},
{"d":"2025-07-04","hi":2.208,"lo":2.166,"k":"sg","s":21},
{"d":"2025-07-10","hi":2.214,"lo":2.190,"k":"sg","s":21},
{"d":"2025-07-16","hi":2.218,"lo":2.197,"k":"sg","s":21},
{"d":"2025-07-23","hi":2.218,"lo":2.201,"k":"sg","s":21},
{"d":"2025-07-23","hi":2.218,"lo":2.201,"k":"so","s":22},
{"d":"2025-07-29","hi":2.201,"lo":2.184,"k":"so","s":22},
{"d":"2025-07-29","hi":2.201,"lo":2.184,"k":"sp","s":23},
{"d":"2025-08-04","hi":2.180,"lo":2.160,"k":"sp","s":23},
{"d":"2025-08-08","hi":2.146,"lo":2.105,"k":"sp","s":23},
{"d":"2025-08-14","hi":2.081,"lo":2.029,"k":"sp","s":23},
{"d":"2025-08-20","hi":2.019,"lo":1.950,"k":"sp","s":23},
{"d":"2025-08-26","hi":1.971,"lo":1.902,"k":"sp","s":23},
{"d":"2025-09-01","hi":1.933,"lo":1.871,"k":"sp","s":23},
{"d":"2025-09-05","hi":1.899,"lo":1.840,"k":"sp","s":23},
{"d":"2025-09-11","hi":1.864,"lo":1.806,"k":"sp","s":23},
{"d":"2025-09-12","hi":1.851,"lo":1.789,"k":"sp","s":23}
],
"lr":[
{"d":"2024-04-08","hi":1.857,"lo":1.727,"k":"lg","s":1},
{"d":"2024-05-07","hi":1.984,"lo":1.837,"k":"lg","s":1},
{"d":"2024-06-04","hi":2.108,"lo":1.936,"k":"lg","s":1},
{"d":"2024-07-02","hi":2.250,"lo":2.060,"k":"lg","s":1},
{"d":"2024-07-24","hi":2.375,"lo":2.160,"k":"lg","s":1},
{"d":"2024-08-01","hi":2.412,"lo":2.187,"k":"lg","s":1},
{"d":"2024-08-14","hi":2.458,"lo":2.225,"k":"lg","s":1},
{"d":"2024-09-03","hi":2.500,"lo":2.269,"k":"lg","s":1},
{"d":"2024-10-01","hi":2.534,"lo":2.328,"k":"lg","s":1},
{"d":"2024-10-24","hi":2.572,"lo":2.393,"k":"lg","s":1},
{"d":"2024-11-20","hi":2.596,"lo":2.434,"k":"lg","s":1},
{"d":"2024-11-22","hi":2.592,"lo":2.434,"k":"lg","s":1},
{"d":"2024-11-22","hi":2.592,"lo":2.434,"k":"lo","s":2},
{"d":"2024-11-28","hi":2.568,"lo":2.427,"k":"lo","s":2},
{"d":"2024-12-10","hi":2.517,"lo":2.417,"k":"lo","s":2},
{"d":"2024-12-24","hi":2.493,"lo":2.400,"k":"lo","s":2},
{"d":"2025-01-08","hi":2.458,"lo":2.383,"k":"lo","s":2},
{"d":"2025-01-17","hi":2.407,"lo":2.366,"k":"lo","s":2},
{"d":"2025-01-30","hi":2.366,"lo":2.338,"k":"lo","s":2},
{"d":"2025-02-10","hi":2.348,"lo":2.328,"k":"lo","s":2},
{"d":"2025-02-17","hi":2.352,"lo":2.328,"k":"lo","s":2},
{"d":"2025-02-17","hi":2.352,"lo":2.328,"k":"lg","s":3},
{"d":"2025-02-24","hi":2.352,"lo":2.328,"k":"lg","s":3},
{"d":"2025-02-24","hi":2.352,"lo":2.328,"k":"lo","s":4},
{"d":"2025-02-28","hi":2.348,"lo":2.324,"k":"lo","s":4},
{"d":"2025-03-13","hi":2.345,"lo":2.314,"k":"lo","s":4},
{"d":"2025-03-27","hi":2.321,"lo":2.304,"k":"lo","s":4},
{"d":"2025-04-10","hi":2.293,"lo":2.280,"k":"lo","s":4},
{"d":"2025-04-10","hi":2.293,"lo":2.280,"k":"lp","s":5},
{"d":"2025-04-28","hi":2.273,"lo":2.252,"k":"lp","s":5},
{"d":"2025-05-09","hi":2.263,"lo":2.245,"k":"lp","s":5},
{"d":"2025-05-09","hi":2.263,"lo":2.245,"k":"lo","s":6},
{"d":"2025-05-20","hi":2.263,"lo":2.242,"k":"lo","s":6},
{"d":"2025-05-20","hi":2.263,"lo":2.242,"k":"lp","s":7},
{"d":"2025-05-30","hi":2.256,"lo":2.235,"k":"lp","s":7},
{"d":"2025-06-16","hi":2.245,"lo":2.225,"k":"lp","s":7},
{"d":"2025-06-23","hi":2.242,"lo":2.215,"k":"lp","s":7},
{"d":"2025-06-23","hi":2.242,"lo":2.215,"k":"lo","s":8},
{"d":"2025-07-02","hi":2.239,"lo":2.211,"k":"lo","s":8},
{"d":"2025-07-14","hi":2.242,"lo":2.215,"k":"lo","s":8},
{"d":"2025-07-23","hi":2.235,"lo":2.211,"k":"lo","s":8},
{"d":"2025-07-23","hi":2.235,"lo":2.211,"k":"lp","s":9},
{"d":"2025-07-31","hi":2.228,"lo":2.201,"k":"lp","s":9},
{"d":"2025-08-12","hi":2.215,"lo":2.184,"k":"lp","s":9},
{"d":"2025-08-21","hi":2.197,"lo":2.156,"k":"lp","s":9},
{"d":"2025-09-01","hi":2.180,"lo":2.125,"k":"lp","s":9},
{"d":"2025-09-08","hi":2.163,"lo":2.098,"k":"lp","s":9},
{"d":"2025-09-12","hi":2.142,"lo":2.067,"k":"lp","s":9}
],
"vma":[
{"d":"2024-04-08","v":4.5},
{"d":"2024-04-26","v":3.9},
{"d":"2024-06-07","v":2.3},
{"d":"2024-08-16","v":2.8},
{"d":"2024-10-18","v":1.9},
{"d":"2024-11-21","v":4.0},
{"d":"2024-12-04","v":4.6},
{"d":"2025-01-15","v":4.9},
{"d":"2025-02-24","v":4.5},
{"d":"2025-03-04","v":3.6},
{"d":"2025-04-10","v":3.0},
{"d":"2025-07-29","v":3.6},
{"d":"2025-08-22","v":4.9},
{"d":"2025-09-03","v":5.6},
{"d":"2025-09-12","v":5.6}
]
},
"vconcat":[
{
"width":952,"height":455,
"title":{"text":"GQG Partners Inc. CDI 1:1 US Person Prohibited Excluding QIB (GQG) - Daily","anchor":"start","frame":"group","offset":-13,"dx":3,"font":"Liberation Sans","fontSize":9.2,"fontWeight":"bold","color":"#000000"},
"layer":[
{"data":{"name":"lr"},"mark":{"type":"area","interpolate":"monotone"},
"encoding":{
"x":{"field":"d","type":"ordinal","bandPosition":0.5,"scale":{"type":"band","range":[1.74,921.5],"paddingInner":0,"paddingOuter":0},
"axis":{"values":["2024-05-01","2024-06-03","2024-07-01","2024-08-01","2024-09-02","2024-10-01","2024-11-01","2024-12-02","2025-01-02","2025-02-03","2025-03-03","2025-04-01","2025-05-01","2025-06-02","2025-07-01","2025-08-01","2025-09-01"],"labelExpr":"substring(datum.value,5,7)=='01' ? substring(datum.value,0,4) : ['','Jan','Feb','Mar','Apr','May','Jun','Jul','Aug','Sep','Oct','Nov','Dec'][toNumber(substring(datum.value,5,7))]","title":null,"ticks":false,"labelAlign":"left","labelBaseline":"top","labelPadding":3,"labelAngle":0,"labelOverlap":false}},
"y":{"field":"hi","type":"quantitative","scale":{"domain":[1.6,3.162],"nice":false,"zero":false},"axis":{"orient":"right","values":[1.6,1.7,1.8,1.9,2.0,2.1,2.2,2.3,2.4,2.5,2.6,2.7,2.8,2.9,3.0,3.1],"format":".2f","tickSize":3,"labelAlign":"right","labelPadding":43,"labelOverlap":false,"title":null}},
"y2":{"field":"lo"},
"color":{"field":"k","type":"nominal","scale":{"domain":["sg","so","sp","lg","lo","lp"],"range":["#00f000","#ff6a1a","#ffb5b5","#3cb371","#ff6a1a","#ff7575"]},"legend":null},
"detail":{"field":"s"}}},
{"data":{"name":"sr"},"mark":{"type":"area","interpolate":"monotone"},
"encoding":{
"x":{"field":"d","type":"ordinal","bandPosition":0.5},
"y":{"field":"hi","type":"quantitative","axis":{"orient":"right","values":[1.6,1.7,1.8,1.9,2.0,2.1,2.2,2.3,2.4,2.5,2.6,2.7,2.8,2.9,3.0,3.1],"format":".2f","tickSize":3,"labelAlign":"right","labelPadding":43,"labelOverlap":false,"title":null}},
"y2":{"field":"lo"},
"color":{"field":"k","type":"nominal","legend":null},
"detail":{"field":"s"}}},
{"data":{"name":"px"},"mark":{"type":"rule","strokeWidth":1},
"encoding":{
"x":{"field":"d","type":"ordinal"},
"y":{"field":"l","type":"quantitative","axis":{"orient":"right","values":[1.6,1.7,1.8,1.9,2.0,2.1,2.2,2.3,2.4,2.5,2.6,2.7,2.8,2.9,3.0,3.1],"format":".2f","tickSize":3,"labelAlign":"right","labelPadding":43,"labelOverlap":false,"title":null}},
"y2":{"field":"h"},
"stroke":{"condition":{"test":"datum.c < datum.o","value":"#000000"},"value":"#7a7a7a"}}},
{"data":{"name":"px"},"mark":{"type":"bar","size":2,"strokeWidth":1},
"encoding":{
"x":{"field":"d","type":"ordinal"},
"y":{"field":"o","type":"quantitative","axis":{"orient":"right","values":[1.6,1.7,1.8,1.9,2.0,2.1,2.2,2.3,2.4,2.5,2.6,2.7,2.8,2.9,3.0,3.1],"format":".2f","tickSize":3,"labelAlign":"right","labelPadding":43,"labelOverlap":false,"title":null}},
"y2":{"field":"c"},
"fill":{"condition":{"test":"datum.c < datum.o","value":"#000000"},"value":"#ffffff"},
"stroke":{"condition":{"test":"datum.c < datum.o","value":"#000000"},"value":"#7a7a7a"}}}
]
},
{
"width":952,"height":88,
"title":{"text":"Volume","anchor":"start","frame":"group","offset":-14,"dx":3,"font":"Liberation Sans","fontSize":10,"fontWeight":"bold","color":"#8080c4"},
"layer":[
{"data":{"name":"px"},"mark":{"type":"bar","size":1.2,"color":"#8585d6"},
"encoding":{
"x":{"field":"d","type":"ordinal","scale":{"type":"band","range":[1.74,921.5],"paddingInner":0,"paddingOuter":0},"axis":{"orient":"top","labels":false,"ticks":false,"title":null}},
"y":{"field":"v","type":"quantitative","scale":{"domain":[0,56.4],"nice":false},"axis":{"orient":"right","values":[0,10,20,30,40,50],"labelExpr":"datum.value==0 ? '0' : datum.value + 'M'","tickSize":3,"labelAlign":"right","labelPadding":43,"labelOverlap":false,"title":null}}}},
{"data":{"name":"vma"},"mark":{"type":"line","interpolate":"step-after","color":"#ff2020","strokeWidth":1.6},
"encoding":{
"x":{"field":"d","type":"ordinal","bandPosition":0.5},
"y":{"field":"v","type":"quantitative","axis":{"orient":"right","values":[0,10,20,30,40,50],"labelExpr":"datum.value==0 ? '0' : datum.value + 'M'","tickSize":3,"labelAlign":"right","labelPadding":43,"labelOverlap":false,"title":null}}}}
]
}
]
}
